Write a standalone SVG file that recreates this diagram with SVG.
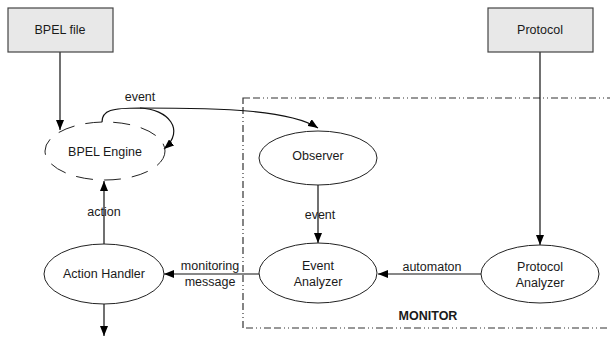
<svg xmlns="http://www.w3.org/2000/svg" width="610" height="338" viewBox="0 0 610 338">
<defs>
<marker id="arr" viewBox="0 0 10 8" refX="10" refY="4" markerWidth="10" markerHeight="8" markerUnits="userSpaceOnUse" orient="auto">
<path d="M0,0 L10,4 L0,8 Z" fill="#000"/>
</marker>
</defs>
<style>
text{font-family:"Liberation Sans",Arial,sans-serif;font-size:12.5px;fill:#1a1a1a;text-anchor:middle;dominant-baseline:central}
.lbl{font-size:12.5px}
.box{fill:#e8e8e8;stroke:#444;stroke-width:1.2}
.node{fill:#fff;stroke:#222;stroke-width:1}
.dash{fill:none;stroke:#222;stroke-width:1;stroke-dasharray:17,11}
.edge{fill:none;stroke:#111;stroke-width:1.2;marker-end:url(#arr)}
.mon{fill:none;stroke:#333;stroke-width:1.2;stroke-dasharray:7,3,7,3,1,3,1,3}
</style>
<rect class="mon" x="243" y="98" width="380" height="230"/>
<text x="428" y="316" style="font-weight:bold">MONITOR</text>
<g id="connectors">
<path class="edge" d="M60,52 V130"/>
<path class="edge" d="M540,52 V245"/>
<path class="edge" d="M102,122 C102,110 112,108 140,108 C168,109 186,130 164,149"/>
<path class="edge" d="M140,108 C225,108 290,110 318,128"/>
<path class="edge" d="M318,185 V243"/>
<path class="edge" d="M481,274 H378"/>
<path class="edge" d="M259,274 H164"/>
<path class="edge" d="M104,244 V181"/>
<path class="edge" d="M104,304 V336"/>
<text class="lbl" x="140" y="97">event</text>
<text class="lbl" x="320" y="215">event</text>
<text class="lbl" x="432" y="267">automaton</text>
<text class="lbl" x="210" y="266">monitoring</text>
<text class="lbl" x="210" y="282">message</text>
<text class="lbl" x="104" y="212">action</text>
</g>
<g id="bpel-file"><rect class="box" x="8" y="8" width="105" height="44"/><text x="60" y="30">BPEL file</text></g>
<g id="protocol"><rect class="box" x="488" y="8" width="105" height="44"/><text x="540" y="30">Protocol</text></g>
<g id="bpel-engine"><ellipse class="dash" cx="105" cy="151" rx="60" ry="29"/><text x="105" y="152">BPEL Engine</text></g>
<g id="observer"><ellipse class="node" cx="318" cy="158" rx="59" ry="27"/><text x="318" y="156">Observer</text></g>
<g id="event-analyzer"><ellipse class="node" cx="318" cy="273" rx="59" ry="30"/><text x="318" y="266">Event</text><text x="318" y="282">Analyzer</text></g>
<g id="protocol-analyzer"><ellipse class="node" cx="540" cy="274" rx="59" ry="29"/><text x="540" y="267">Protocol</text><text x="540" y="283">Analyzer</text></g>
<g id="action-handler"><ellipse class="node" cx="104" cy="274" rx="60" ry="30"/><text x="104" y="274">Action Handler</text></g>
</svg>
